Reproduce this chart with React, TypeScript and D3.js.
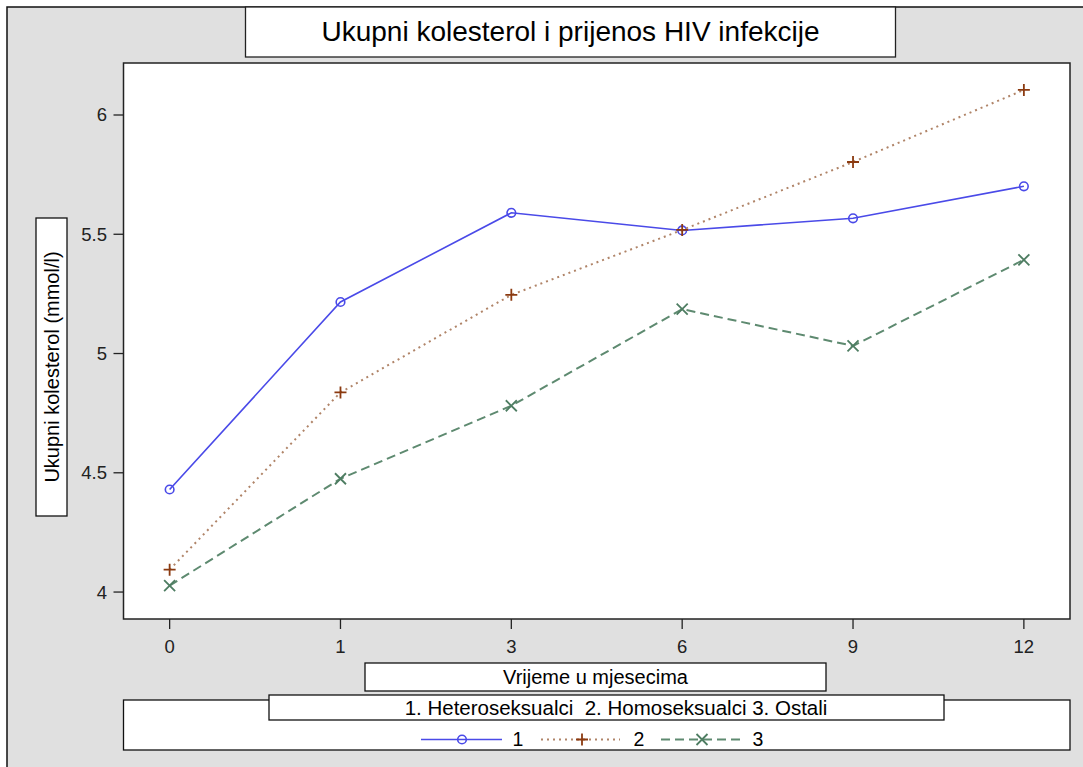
import React from "react";
import * as d3 from "d3";

const months = ["0", "1", "3", "6", "9", "12"];
const heteroseksualci = [4.43, 5.216, 5.59, 5.516, 5.567, 5.701];
const homoseksualci = [4.094, 4.837, 5.246, 5.518, 5.803, 6.105];
const ostali = [4.027, 4.475, 4.781, 5.186, 5.032, 5.393];
const yTicks = [4, 4.5, 5, 5.5, 6];

const titleText = "Ukupni kolesterol i prijenos HIV infekcije";
const xLabel = "Vrijeme u mjesecima";
const yLabel = "Ukupni kolesterol (mmol/l)";
const legendTitle = "1. Heteroseksualci  2. Homoseksualci 3. Ostali";
const legendLabels = ["1", "2", "3"];

const W = 1083;
const H = 767;
const FONT = "'Liberation Sans', Arial, Helvetica, sans-serif";

const plot = { left: 123.5, right: 1070, top: 63, bottom: 619 };

const series = [
  { values: heteroseksualci, line: "#4a4ae8", marker: "#4a4ae8", dash: undefined as string | undefined, width: 1.6, shape: "circle" },
  { values: homoseksualci, line: "#b08468", marker: "#8b3a10", dash: "2,4", width: 2, shape: "plus" },
  { values: ostali, line: "#5e8a70", marker: "#4e7d62", dash: "9,5", width: 2, shape: "x" },
];

function Marker({ shape, x, y, color }: { shape: string; x: number; y: number; color: string }) {
  if (shape === "circle") {
    return <circle cx={x} cy={y} r={4.3} fill="none" stroke={color} strokeWidth={1.6} />;
  }
  if (shape === "plus") {
    const s = 6;
    return (
      <path d={`M${x - s},${y}H${x + s}M${x},${y - s}V${y + s}`} stroke={color} strokeWidth={1.8} fill="none" />
    );
  }
  const s = 5.5;
  return (
    <path d={`M${x - s},${y - s}L${x + s},${y + s}M${x - s},${y + s}L${x + s},${y - s}`} stroke={color} strokeWidth={1.8} fill="none" />
  );
}

export default function App() {
  const x = d3.scalePoint<string>().domain(months).range([plot.left, plot.right]).padding(0.27);
  const y = d3.scaleLinear().domain([3.887, 6.218]).range([plot.bottom, plot.top]);

  const lineGen = d3
    .line<number>()
    .x((_, i) => x(months[i]) as number)
    .y((d) => y(d));

  const legendItems = [
    { x0: 421, x1: 502, mx: 462, lx: 518 },
    { x0: 541, x1: 620, mx: 582, lx: 639 },
    { x0: 661, x1: 742, mx: 702, lx: 758 },
  ];
  const legendY = 739.5;

  return (
    <svg
      width={W}
      height={H}
      style={{ position: "absolute", left: 0, top: 0, display: "block" }}
      fontFamily={FONT}
    >
      <rect x={0} y={0} width={W} height={H} fill="#ffffff" />
      <rect x={7} y={7} width={W + 20} height={H + 20} fill="#e0e0e0" stroke="#111" strokeWidth={1.5} />

      {/* Title */}
      <rect x={245.5} y={7} width={650} height={50} fill="#ffffff" stroke="#222" strokeWidth={1.3} />
      <text x={570.5} y={40.5} textAnchor="middle" fontSize={28} fill="#000">
        {titleText}
      </text>

      {/* Plot area */}
      <rect
        x={plot.left}
        y={plot.top}
        width={plot.right - plot.left}
        height={plot.bottom - plot.top}
        fill="#ffffff"
        stroke="#222"
        strokeWidth={1.5}
      />

      {/* Y ticks */}
      {yTicks.map((t) => (
        <g key={t}>
          <line x1={plot.left - 10} x2={plot.left} y1={y(t)} y2={y(t)} stroke="#222" strokeWidth={1.3} />
          <text x={plot.left - 16.5} y={y(t)} dy="0.35em" textAnchor="end" fontSize={18.5} fill="#222">
            {d3.format("")(t)}
          </text>
        </g>
      ))}

      {/* X ticks */}
      {months.map((m) => (
        <g key={m}>
          <line x1={x(m)} x2={x(m)} y1={plot.bottom} y2={plot.bottom + 10} stroke="#222" strokeWidth={1.3} />
          <text x={x(m) as number} y={plot.bottom + 28} dy="0.35em" textAnchor="middle" fontSize={18.5} fill="#222">
            {m}
          </text>
        </g>
      ))}

      {/* Series */}
      {series.map((s, si) => (
        <g key={si}>
          <path
            d={lineGen(s.values) as string}
            fill="none"
            stroke={s.line}
            strokeWidth={s.width}
            strokeDasharray={s.dash}
          />
          {s.values.map((v, i) => (
            <Marker key={i} shape={s.shape} x={x(months[i]) as number} y={y(v)} color={s.marker} />
          ))}
        </g>
      ))}

      {/* Y label */}
      <rect x={36} y={218} width={31} height={298} fill="#ffffff" stroke="#111" strokeWidth={1.3} />
      <text
        transform={`translate(52,367) rotate(-90)`}
        textAnchor="middle"
        dy="0.35em"
        fontSize={20}
        fill="#000"
      >
        {yLabel}
      </text>

      {/* X label */}
      <rect x={365} y={663} width={461} height={28} fill="#ffffff" stroke="#111" strokeWidth={1.3} />
      <text x={595.5} y={677} dy="0.35em" textAnchor="middle" fontSize={20} fill="#000">
        {xLabel}
      </text>

      {/* Legend */}
      <rect x={123.5} y={700} width={946.5} height={50} fill="#ffffff" stroke="#111" strokeWidth={1.3} />
      <rect x={269} y={695} width={675} height={25} fill="#ffffff" stroke="#111" strokeWidth={1.3} />
      <text
        x={616}
        y={707.5}
        dy="0.35em"
        textAnchor="middle"
        fontSize={20.5}
        fill="#000"
        style={{ whiteSpace: "pre" }}
      >
        {legendTitle}
      </text>
      {legendItems.map((it, i) => (
        <g key={i}>
          <line
            x1={it.x0}
            x2={it.x1}
            y1={legendY}
            y2={legendY}
            stroke={series[i].line}
            strokeWidth={series[i].width}
            strokeDasharray={series[i].dash}
          />
          <Marker shape={series[i].shape} x={it.mx} y={legendY} color={series[i].marker} />
          <text x={it.lx} y={legendY} dy="0.35em" textAnchor="middle" fontSize={19.5} fill="#000">
            {legendLabels[i]}
          </text>
        </g>
      ))}
    </svg>
  );
}
